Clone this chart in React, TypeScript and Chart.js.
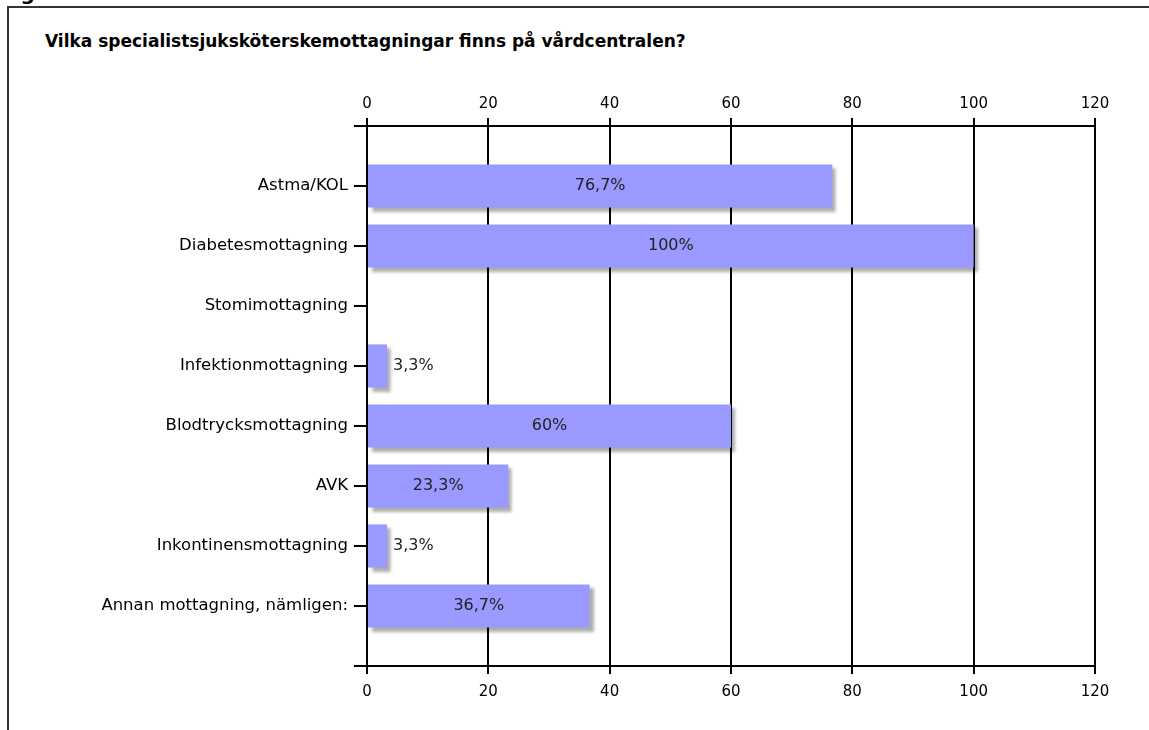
import React, { useEffect, useRef } from "react";
import { Chart, registerables } from "chart.js";

Chart.register(...registerables);

const titleText = "Vilka specialistsjuksköterskemottagningar finns på vårdcentralen?";
const figureText = "Figur 5";
const categories = [
  "Astma/KOL",
  "Diabetesmottagning",
  "Stomimottagning",
  "Infektionmottagning",
  "Blodtrycksmottagning",
  "AVK",
  "Inkontinensmottagning",
  "Annan mottagning, nämligen:",
];
const percentValues = [76.7, 100, 0, 3.3, 60, 23.3, 3.3, 36.7];
const axisTicks = [0, 20, 40, 60, 80, 100, 120];

const FONT = '"DejaVu Sans", Verdana, sans-serif';

const fmt = (v: number) =>
  (Number.isInteger(v) ? String(v) : v.toFixed(1).replace(".", ",")) + "%";

const shadowPlugin = {
  id: "barShadow",
  beforeDatasetsDraw(chart: any) {
    const ctx = chart.ctx;
    ctx.save();
    ctx.shadowColor = "rgba(0,0,0,0.32)";
    ctx.shadowBlur = 3;
    ctx.shadowOffsetX = 4;
    ctx.shadowOffsetY = 4;
  },
  afterDatasetsDraw(chart: any) {
    chart.ctx.restore();
  },
};

const valueLabelPlugin = {
  id: "valueLabels",
  afterDatasetsDraw(chart: any) {
    const ctx = chart.ctx;
    const meta = chart.getDatasetMeta(0);
    const data = chart.data.datasets[0].data;
    ctx.save();
    ctx.font = `16px ${FONT}`;
    ctx.fillStyle = "#222";
    ctx.textBaseline = "middle";
    meta.data.forEach((bar: any, i: number) => {
      const v = data[i];
      if (v == null || v === 0) return;
      const text = fmt(v);
      const w = ctx.measureText(text).width;
      const left = bar.base;
      const right = bar.x;
      if (right - left > w + 12) {
        ctx.textAlign = "center";
        ctx.fillText(text, (left + right) / 2, bar.y);
      } else {
        ctx.textAlign = "left";
        ctx.fillText(text, right + 6, bar.y);
      }
    });
    ctx.restore();
  },
};

export default function App() {
  const canvasRef = useRef<HTMLCanvasElement | null>(null);

  useEffect(() => {
    if (!canvasRef.current) return;
    const labels = ["", ...categories, ""];
    const data = [null, ...percentValues, null];
    const setTicks = (scale: any) => {
      scale.ticks = axisTicks.map((v) => ({ value: v }));
    };
    const chart = new Chart(canvasRef.current, {
      type: "bar",
      data: {
        labels,
        datasets: [
          {
            data: data as any,
            backgroundColor: "#9999FF",
            borderWidth: 0,
            minBarLength: 1,
            xAxisID: "x",
            yAxisID: "y",
          },
        ],
      },
      options: {
        indexAxis: "y",
        responsive: false,
        animation: false,
        events: [],
        layout: { padding: { left: 0, top: 0, right: 54, bottom: 0 } },
        plugins: {
          legend: { display: false },
          tooltip: { enabled: false },
        },
        scales: {
          y: {
            type: "category",
            position: "left",
            offset: false,
            grid: {
              offset: false,
              drawOnChartArea: false,
              drawTicks: true,
              tickLength: 13,
              lineWidth: 2,
              color: "#000",
              tickColor: "#000",
            },
            border: { display: true, color: "#000", width: 2 },
            ticks: {
              autoSkip: false,
              padding: 6,
              color: "#000",
              font: { family: FONT, size: 16.5 },
            },
            afterFit: (scale: any) => {
              scale.width = 367;
            },
          },
          xTop: {
            type: "linear",
            axis: "x",
            position: "top",
            min: 0,
            max: 120,
            afterBuildTicks: setTicks,
            grid: {
              drawOnChartArea: true,
              drawTicks: true,
              tickLength: 8,
              lineWidth: 2,
              color: "#000",
              tickColor: "#000",
            },
            border: { display: true, color: "#000", width: 2 },
            ticks: {
              padding: 5,
              color: "#000",
              maxRotation: 0,
              font: { family: FONT, size: 15 },
            },
            afterFit: (scale: any) => {
              scale.height = 126;
            },
          },
          x: {
            type: "linear",
            position: "bottom",
            min: 0,
            max: 120,
            afterBuildTicks: setTicks,
            grid: {
              drawOnChartArea: false,
              drawTicks: true,
              tickLength: 8,
              lineWidth: 2,
              color: "#000",
              tickColor: "#000",
            },
            border: { display: true, color: "#000", width: 2 },
            ticks: {
              padding: 9,
              color: "#000",
              maxRotation: 0,
              font: { family: FONT, size: 15 },
            },
            afterFit: (scale: any) => {
              scale.height = 64;
            },
          },
        },
      } as any,
      plugins: [shadowPlugin, valueLabelPlugin],
    });
    return () => chart.destroy();
  }, []);

  return (
    <div
      style={{
        position: "fixed",
        left: 0,
        top: 0,
        width: 1149,
        height: 730,
        overflow: "hidden",
        background: "#fff",
      }}
    >
      <div
        style={{
          position: "absolute",
          left: 0,
          top: -17,
          font: `bold 20px ${FONT}`,
          lineHeight: "20px",
          color: "#000",
          whiteSpace: "nowrap",
        }}
      >
        {figureText}
      </div>
      <div
        style={{
          position: "absolute",
          left: 7,
          top: 6,
          width: 1200,
          height: 800,
          borderTop: "2px solid #333",
          borderLeft: "2px solid #333",
        }}
      />
      <div
        style={{
          position: "absolute",
          left: 45,
          top: 31,
          font: `bold 17px ${FONT}`,
          lineHeight: "20px",
          color: "#000",
          whiteSpace: "nowrap",
        }}
      >
        {titleText}
      </div>
      <canvas
        ref={canvasRef}
        width={1149}
        height={730}
        style={{ position: "absolute", left: 0, top: 0, width: 1149, height: 730 }}
      />
    </div>
  );
}
